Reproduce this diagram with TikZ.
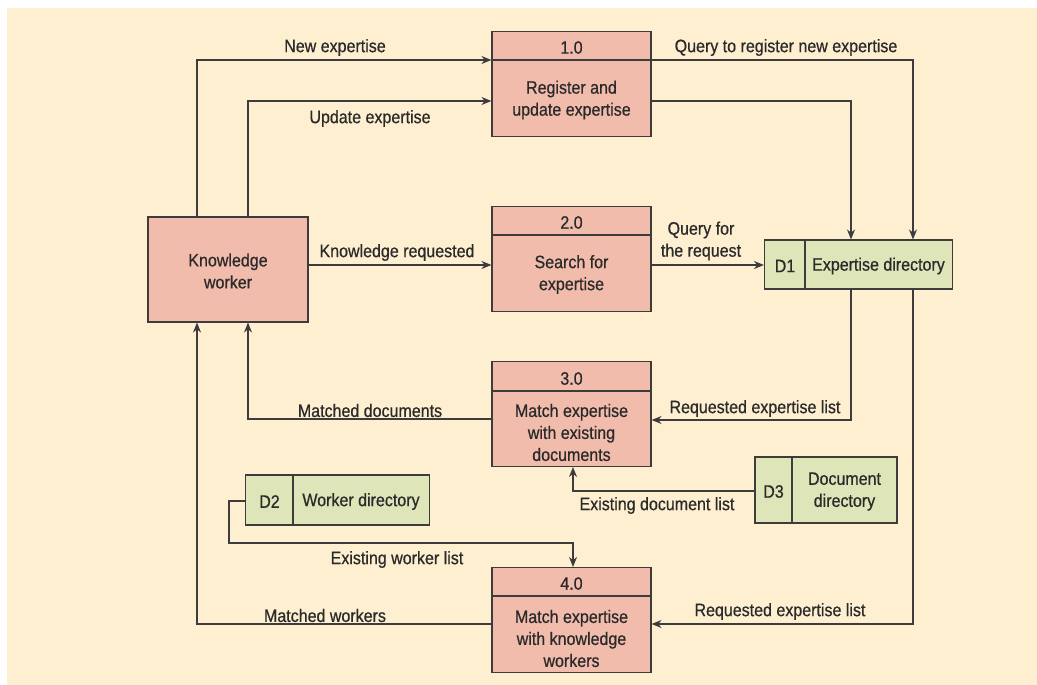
\documentclass[tikz,border=0pt]{standalone}
\usepackage{fontspec}
\setmainfont{Liberation Sans}[FakeStretch=0.89,FakeBold=0.6]
\usetikzlibrary{arrows.meta,calc}

\definecolor{paper}{HTML}{FDEFD0}
\definecolor{procfill}{HTML}{F2BCAC}
\definecolor{storefill}{HTML}{DDE5B9}
\definecolor{ink}{HTML}{2A2A2A}
\definecolor{edge}{HTML}{3C3C3C}

\begin{document}
\begin{tikzpicture}[x=1pt,y=-1pt,
  every node/.style={font=\fontsize{18}{22}\selectfont, text=ink, inner sep=0pt},
  proc/.style={draw=edge, line width=1.1pt, fill=procfill, minimum width=159pt, minimum height=105pt},
  store/.style={draw=edge, line width=1.1pt, fill=storefill},
  flow/.style={draw=edge, line width=1.1pt, -{Stealth[length=10pt,width=8pt]}},
  link/.style={draw=edge, line width=1.1pt},
  txt/.style={align=center, yshift=-1.5pt}
]
\useasboundingbox (0,0) rectangle (1037,685);
\fill[white] (0,0) rectangle (1037,685);
\fill[paper] (7,8) rectangle (1037,685);

% external entity
\node[proc, minimum width=160pt] (kw) at (228,269.5) {};
\node[txt] at (kw.center) {Knowledge\\worker};

% processes: box, header rule, number, body text
\node[proc] (p1) at (571.5,84) {};
\draw[link] (p1.west |- 0,60) -- (p1.east |- 0,60);
\node[txt] at (571.5,46) {1.0};
\node[txt] at (571.5,98.5) {Register and\\update expertise};

\node[proc] (p2) at (571.5,259) {};
\draw[link] (p2.west |- 0,235) -- (p2.east |- 0,235);
\node[txt] at (571.5,221) {2.0};
\node[txt] at (571.5,273) {Search for\\expertise};

\node[proc] (p3) at (571.5,414) {};
\draw[link] (p3.west |- 0,391) -- (p3.east |- 0,391);
\node[txt] at (571.5,377) {3.0};
\node[txt] at (571.5,431) {Match expertise\\with existing\\documents};

\node[proc] (p4) at (571.5,620) {};
\draw[link] (p4.west |- 0,596) -- (p4.east |- 0,596);
\node[txt] at (571.5,582) {4.0};
\node[txt] at (571.5,637) {Match expertise\\with knowledge\\workers};

% data stores
\node[store, minimum width=188pt, minimum height=49pt] (d1) at (858.5,264.5) {};
\draw[link] (805,0 |- d1.north) -- (805,0 |- d1.south);
\node[txt] at (785,264.5) {D1};
\node[txt] at (878.5,264.5) {Expertise directory};

\node[store, minimum width=184pt, minimum height=50pt] (d2) at (337.5,500) {};
\draw[link] (293,0 |- d2.north) -- (293,0 |- d2.south);
\node[txt] at (269.5,500) {D2};
\node[txt] at (361,500) {Worker directory};

\node[store, minimum width=142pt, minimum height=66pt] (d3) at (826,490) {};
\draw[link] (792,0 |- d3.north) -- (792,0 |- d3.south);
\node[txt] at (773.5,490) {D3};
\node[txt] at (844.5,490) {Document\\directory};

% flows
\draw[flow] (kw.north -| 197,0) |- (p1.west |- 0,60);
\draw[flow] (kw.north -| 248,0) |- (p1.west |- 0,101);
\draw[flow] (p1.east |- 0,60) -| (d1.north -| 913,0);
\draw[flow] (p1.east |- 0,101) -| (d1.north -| 851,0);
\draw[flow] (kw.east |- 0,265) -- (p2.west |- 0,265);
\draw[flow] (p2.east |- 0,265) -- (d1.west |- 0,265);
\draw[flow] (d1.south -| 851,0) |- (p3.east |- 0,420);
\draw[flow] (p3.west |- 0,419) -| (kw.south -| 248,0);
\draw[flow] (d3.west |- 0,491) -| (p3.south -| 573,0);
\draw[flow] (d2.west |- 0,501) -- (229,501) |- (573,543) -- (p4.north -| 573,0);
\draw[flow] (d1.south -| 913,0) |- (p4.east |- 0,624);
\draw[flow] (p4.west |- 0,624) -| (kw.south -| 197,0);

% flow labels
\node[txt] at (335,46) {New expertise};
\node[txt] at (370,117) {Update expertise};
\node[txt] at (786,46) {Query to register new expertise};
\node[txt] at (397,251) {Knowledge requested};
\node[txt] at (701,239.5) {Query for\\the request};
\node[txt] at (755,407) {Requested expertise list};
\node[txt] at (370,409) {Matched documents};
\node[txt] at (657,504) {Existing document list};
\node[txt] at (397,558) {Existing worker list};
\node[txt] at (780,610) {Requested expertise list};
\node[txt] at (325,614) {Matched workers};
\end{tikzpicture}
\end{document}
